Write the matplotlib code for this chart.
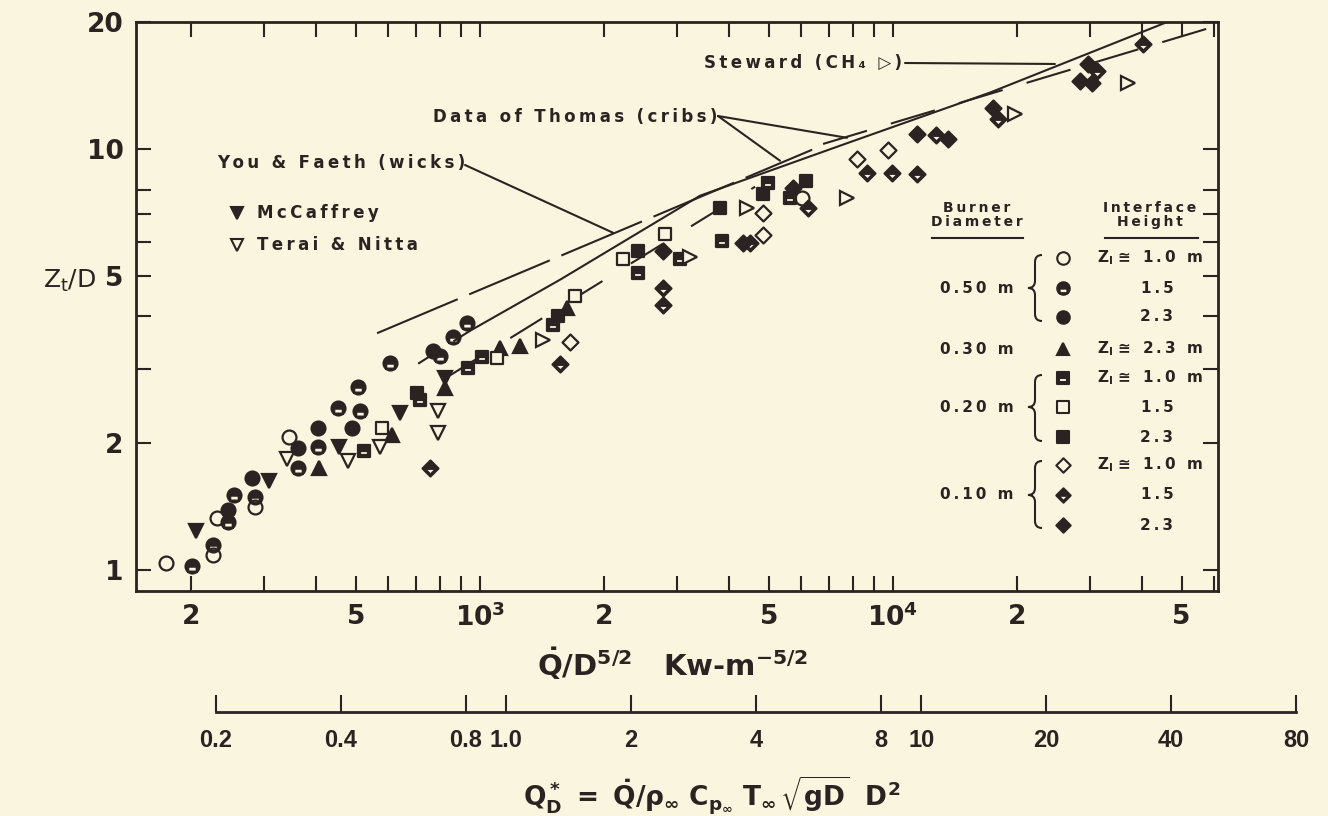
import numpy as np
import matplotlib.pyplot as plt
from matplotlib.path import Path
from matplotlib.patches import PathPatch
from matplotlib.lines import Line2D
from matplotlib.ticker import FixedLocator, FixedFormatter, NullFormatter

plt.rcParams['font.family'] = ['DejaVu Sans']
plt.rcParams['mathtext.fontset'] = 'dejavusans'
plt.rcParams['mathtext.default'] = 'bf'

INK = '#2b2321'
PAPER = '#f9f5df'
W, H = 1328, 816

# ---- flame height data: Q/D^5/2 (kW m^-5/2) and Z_t/D ----
d50_z10_q = [174, 226, 231, 285, 345, 6030]
d50_z10_z = [1.04, 1.085, 1.33, 1.41, 2.07, 7.65]
d50_z15_q = [201, 226, 245, 254, 285, 362, 405, 453, 506, 512, 605, 800, 860, 930]
d50_z15_z = [1.02, 1.15, 1.30, 1.51, 1.49, 1.745, 1.96, 2.42, 2.72, 2.39, 3.11, 3.23, 3.57, 3.85]
d50_z23_q = [245, 281, 362, 405, 490, 770]
d50_z23_z = [1.39, 1.65, 1.95, 2.18, 2.17, 3.32]

d30_z23_q = [407, 612, 822, 1118, 1250, 1625]
d30_z23_z = [1.745, 2.09, 2.70, 3.36, 3.41, 4.20]

d20_z10_q = [522, 704, 716, 936, 1011, 1502, 2413, 3048, 3855, 4980, 5630]
d20_z10_z = [1.92, 2.63, 2.53, 3.01, 3.20, 3.81, 5.06, 5.49, 6.05, 8.30, 7.65]
d20_z15_q = [579, 1099, 1698, 2218, 2806]
d20_z15_z = [2.17, 3.18, 4.48, 5.49, 6.29]
d20_z23_q = [1545, 2413, 3811, 4840, 6155]
d20_z23_z = [4.02, 5.73, 7.25, 7.82, 8.40]

d10_z10_q = [1652, 4840, 4840, 8185, 9730]
d10_z10_z = [3.47, 7.05, 6.25, 9.47, 9.95]
d10_z15_q = [757, 1562, 2775, 2775, 4510, 6225, 8650, 9945, 11430, 12710, 17950, 31200, 40270]
d10_z15_z = [1.745, 3.09, 4.68, 4.25, 5.99, 7.25, 8.77, 8.77, 8.72, 10.8, 11.8, 15.3, 17.7]
d10_z23_q = [2775, 4335, 5730, 11430, 13590, 17460, 29650, 28380, 30340]
d10_z23_z = [5.73, 5.99, 8.08, 10.85, 10.56, 12.5, 15.9, 14.5, 14.3]

mccaffrey_q = [205, 308, 456, 640, 822]
mccaffrey_z = [1.24, 1.63, 1.96, 2.36, 2.85]
terai_q = [341, 479, 573, 791, 791]
terai_z = [1.84, 1.82, 1.96, 2.39, 2.11]
steward_pts_q = [1421, 3225, 4430, 7740, 19750, 37070]
steward_pts_z = [3.51, 5.55, 7.25, 7.65, 12.1, 14.3]

# ---- correlation curves ----
wick_q = [563, 6370]
wick_z = [3.65, 9.95]
crib_q = [6770, 60500]
crib_z = [10.27, 19.56]
steward_q = [946, 1562, 3410, 7650, 17180, 45560]
steward_z = [3.70, 4.89, 7.74, 10.27, 13.6, 19.9]
steward_ext_q = [708, 946]
steward_ext_z = [3.09, 3.70]
fit_q = [846, 4635]
fit_z = [2.90, 8.13]

x_major = [200, 500, 1e3, 2e3, 5e3, 1e4, 2e4, 5e4]
x_major_labels = ['2', '5', r'$10^3$', '2', '5', r'$10^4$', '2', '5']
x_minor = [300, 400, 600, 700, 800, 900, 3e3, 4e3, 6e3, 7e3, 8e3, 9e3, 3e4, 4e4, 6e4]
y_major = [1, 2, 5, 10, 20]
y_minor = [3, 4, 6, 7, 8]
qstar_ticks = [0.2, 0.4, 0.8, 1.0, 2, 4, 8, 10, 20, 40, 80]
qstar_labels = ['0.2', '0.4', '0.8', '1.0', '2', '4', '8', '10', '20', '40', '80']


# marker outlines, with a white band cut out for the half-filled symbols
def _closed(pts):
    return Path(pts + [pts[0]], [Path.MOVETO] + [Path.LINETO] * (len(pts) - 1) + [Path.CLOSEPOLY])


CIRCLE = Path.unit_circle()
SQUARE = _closed([(-1, -1), (1, -1), (1, 1), (-1, 1)])
DIAMOND = _closed([(0, -1), (1, 0), (0, 1), (-1, 0)])
CIRCLE_H = Path.make_compound_path(CIRCLE, _closed([(-0.62, -0.02), (0.62, -0.02), (0.62, -0.74), (-0.62, -0.74)]))
SQUARE_H = Path.make_compound_path(SQUARE, _closed([(-0.66, 0.02), (0.66, 0.02), (0.66, -0.66), (-0.66, -0.66)]))
DIAMOND_H = Path.make_compound_path(DIAMOND, _closed([(-0.72, -0.04), (0.72, -0.04), (0, -0.76)]))

styles = {
    'c_open': dict(marker=CIRCLE, ms=10, mfc=PAPER),
    'c_half': dict(marker=CIRCLE_H, ms=10, mfc=INK),
    'c_full': dict(marker=CIRCLE, ms=10, mfc=INK),
    'tri_up': dict(marker='^', ms=9.5, mfc=INK),
    's_half': dict(marker=SQUARE_H, ms=9, mfc=INK),
    's_open': dict(marker=SQUARE, ms=9, mfc=PAPER),
    's_full': dict(marker=SQUARE, ms=9, mfc=INK),
    'd_open': dict(marker=DIAMOND, ms=11.5, mfc=PAPER),
    'd_half': dict(marker=DIAMOND_H, ms=11.5, mfc=INK),
    'd_full': dict(marker=DIAMOND, ms=11.5, mfc=INK),
    'tri_dn': dict(marker='v', ms=9.5, mfc=INK),
    'tri_dn_open': dict(marker='v', ms=9.5, mfc=PAPER),
    'tri_r_open': dict(marker='>', ms=9.5, mfc=PAPER),
}

series = [
    (d50_z10_q, d50_z10_z, 'c_open'),
    (d50_z15_q, d50_z15_z, 'c_half'),
    (d50_z23_q, d50_z23_z, 'c_full'),
    (d30_z23_q, d30_z23_z, 'tri_up'),
    (d20_z10_q, d20_z10_z, 's_half'),
    (d20_z15_q, d20_z15_z, 's_open'),
    (d20_z23_q, d20_z23_z, 's_full'),
    (d10_z10_q, d10_z10_z, 'd_open'),
    (d10_z15_q, d10_z15_z, 'd_half'),
    (d10_z23_q, d10_z23_z, 'd_full'),
    (mccaffrey_q, mccaffrey_z, 'tri_dn'),
    (terai_q, terai_z, 'tri_dn_open'),
    (steward_pts_q, steward_pts_z, 'tri_r_open'),
]


def fig_xy(x, y):
    # figure pixel (top-left origin) -> figure fraction
    return x / W, 1 - y / H


def spaced(s):
    # letter-spaced lettering
    return '\u2009'.join(s)


fig = plt.figure(figsize=(W / 100, H / 100), dpi=100, facecolor=PAPER)
ax = fig.add_axes([136 / W, 1 - 591 / H, 1082 / W, 569 / H], facecolor=PAPER)
ax.set_xscale('log')
ax.set_yscale('log')
ax.set_xlim(146.8, 61240)
ax.set_ylim(0.892, 20)

lw = 1.5
ax.plot(wick_q, wick_z, color=INK, lw=lw, dashes=(42, 6), zorder=2)
ax.plot(crib_q, crib_z, color=INK, lw=lw, dashes=(22, 12), zorder=2)
ax.plot(steward_q, steward_z, color=INK, lw=lw, zorder=2)
ax.plot(steward_ext_q, steward_ext_z, color=INK, lw=lw, dashes=(12, 8), zorder=2)
ax.plot(fit_q, fit_z, color=INK, lw=lw, dashes=(18, 16), zorder=2)

for q, z, key in series:
    st = styles[key]
    ax.plot(q, z, ls='none', marker=st['marker'], ms=st['ms'], mfc=st['mfc'],
            mec=INK, mew=1.6, zorder=3)

for sp in ax.spines.values():
    sp.set_linewidth(2.0)
    sp.set_color(INK)

ax.xaxis.set_major_locator(FixedLocator(x_major))
ax.xaxis.set_major_formatter(FixedFormatter(x_major_labels))
ax.xaxis.set_minor_locator(FixedLocator(x_minor))
ax.xaxis.set_minor_formatter(NullFormatter())
ax.yaxis.set_major_locator(FixedLocator(y_major))
ax.yaxis.set_major_formatter(FixedFormatter([str(v) for v in y_major]))
ax.yaxis.set_minor_locator(FixedLocator(y_minor))
ax.yaxis.set_minor_formatter(NullFormatter())
ax.tick_params(which='both', direction='in', length=11, width=1.5, color=INK,
               top=True, right=True)
ax.tick_params(axis='x', which='major', pad=9)
ax.tick_params(axis='y', which='major', pad=9)
for lab in ax.get_xticklabels() + ax.get_yticklabels():
    lab.set_fontweight('bold')
    lab.set_fontsize(19)
    lab.set_color(INK)

# axis titles
fig.text(*fig_xy(96, 281), r'Z$_\mathregular{t}$/D', fontsize=18,
         color=INK, ha='right', va='center')
fig.text(*fig_xy(672, 664), r'$\dot{Q}/D^{5/2}$' + '   ' + r'Kw-m$^{-5/2}$', fontsize=21,
         weight='bold', color=INK, ha='center', va='center')

# second scale in terms of Q*
ax2 = fig.add_axes([216 / W, 1 - 712 / H, 1080 / W, 0.0001], facecolor='none')
ax2.set_xscale('log')
ax2.set_xlim(0.2, 80)
for side in ['top', 'left', 'right']:
    ax2.spines[side].set_visible(False)
ax2.spines['bottom'].set_linewidth(2.0)
ax2.spines['bottom'].set_color(INK)
ax2.set_yticks([])
ax2.xaxis.set_major_locator(FixedLocator(qstar_ticks))
ax2.xaxis.set_major_formatter(FixedFormatter(qstar_labels))
ax2.xaxis.set_minor_locator(FixedLocator([]))
ax2.tick_params(axis='x', direction='in', length=12, width=1.5, color=INK, pad=12)
for lab in ax2.get_xticklabels():
    lab.set_fontfamily('Liberation Sans')
    lab.set_fontweight('bold')
    lab.set_fontsize(17)
    lab.set_color(INK)
fig.text(*fig_xy(712, 806),
         r'$Q^*_D\ =\ \dot{Q}/\rho_\infty\ C_{p_\infty}\ T_\infty\,\sqrt{gD}\ \ D^2$',
         fontsize=19, color=INK, ha='center', va='baseline')

# curve labels and leaders
txt = dict(fontsize=12, weight='bold', color=INK, va='center')
fig.text(*fig_xy(704, 63), spaced('Steward (CH\u2084 \u25b7)'), ha='left', **txt)
fig.text(*fig_xy(433, 117), spaced('Data of Thomas (cribs)'), ha='left', **txt)
fig.text(*fig_xy(217, 163), spaced('You & Faeth (wicks)'), ha='left', **txt)
leaders = [((905, 63), (24660, 15.9)),
           ((718, 116), (7740, 10.62)),
           ((718, 116), (5325, 9.37)),
           ((465, 165), (2099, 6.32))]
for (px, py), xy in leaders:
    ax.annotate('', xy=xy, xycoords='data', xytext=fig_xy(px, py), textcoords='figure fraction',
                arrowprops=dict(arrowstyle='-', color=INK, lw=1.5, shrinkA=0, shrinkB=0))

# other data sources
for ypx, key, name in [(213, 'tri_dn', 'McCaffrey'), (245, 'tri_dn_open', 'Terai & Nitta')]:
    st = styles[key]
    fig.add_artist(Line2D([237 / W], [1 - ypx / H], transform=fig.transFigure, ls='none',
                          marker=st['marker'], ms=8.5, mfc=st['mfc'], mec=INK, mew=1.5))
    fig.text(*fig_xy(257, ypx), spaced(name), ha='left', **txt)

# key for burner diameter / interface height
small = dict(fontsize=10, weight='bold', color=INK, ha='center', va='center')
fig.text(*fig_xy(977, 215), spaced('Burner') + '\n' + spaced('Diameter'), linespacing=1.0, **small)
fig.text(*fig_xy(1150, 215), spaced('Interface') + '\n' + spaced('Height'), linespacing=1.0, **small)
for x0, x1 in [(932, 1023), (1105, 1198)]:
    fig.add_artist(Line2D([x0 / W, x1 / W], [1 - 238 / H] * 2, transform=fig.transFigure,
                          color=INK, lw=1.5))

key_rows = [(258, 'c_open', '1.0 m'), (288, 'c_half', '1.5'), (317, 'c_full', '2.3'),
            (349, 'tri_up', '2.3 m'), (378, 's_half', '1.0 m'), (407, 's_open', '1.5'),
            (437, 's_full', '2.3'), (465, 'd_open', '1.0 m'), (495, 'd_half', '1.5'),
            (525, 'd_full', '2.3')]
val = dict(fontsize=11, weight='bold', color=INK, va='center')
for ypx, key, label in key_rows:
    st = styles[key]
    fig.add_artist(Line2D([1063 / W], [1 - ypx / H], transform=fig.transFigure, ls='none',
                          marker=st['marker'], ms=st['ms'] * 0.9, mfc=st['mfc'], mec=INK, mew=1.5))
    if label.endswith('m'):
        fig.text(*fig_xy(1150, ypx), r'Z$_\mathregular{I}$ ' + spaced('\u2245 ' + label), ha='center', **val)
    else:
        fig.text(*fig_xy(1157, ypx), spaced(label), ha='center', **val)

for ypx, label in [(288, '0.50 m'), (349, '0.30 m'), (407, '0.20 m'), (495, '0.10 m')]:
    fig.text(*fig_xy(977, ypx), spaced(label), ha='center', **val)


def brace(x, y0, y1, ym, w=7):
    pts = [(x + w, y0), (x, y0), (x, y0 + w), (x, ym - w), (x, ym), (x - w, ym),
           (x, ym), (x, ym + w), (x, y1 - w), (x, y1), (x + w, y1)]
    codes = [Path.MOVETO, Path.CURVE3, Path.CURVE3, Path.LINETO, Path.CURVE3, Path.CURVE3,
             Path.CURVE3, Path.CURVE3, Path.LINETO, Path.CURVE3, Path.CURVE3]
    verts = [fig_xy(px, py) for px, py in pts]
    fig.add_artist(PathPatch(Path(verts, codes), transform=fig.transFigure, fill=False,
                             ec=INK, lw=1.5))


brace(1035, 255, 321, 288)
brace(1035, 375, 441, 407)
brace(1035, 461, 528, 495)

fig.savefig('out.png', dpi=100, facecolor=PAPER)
